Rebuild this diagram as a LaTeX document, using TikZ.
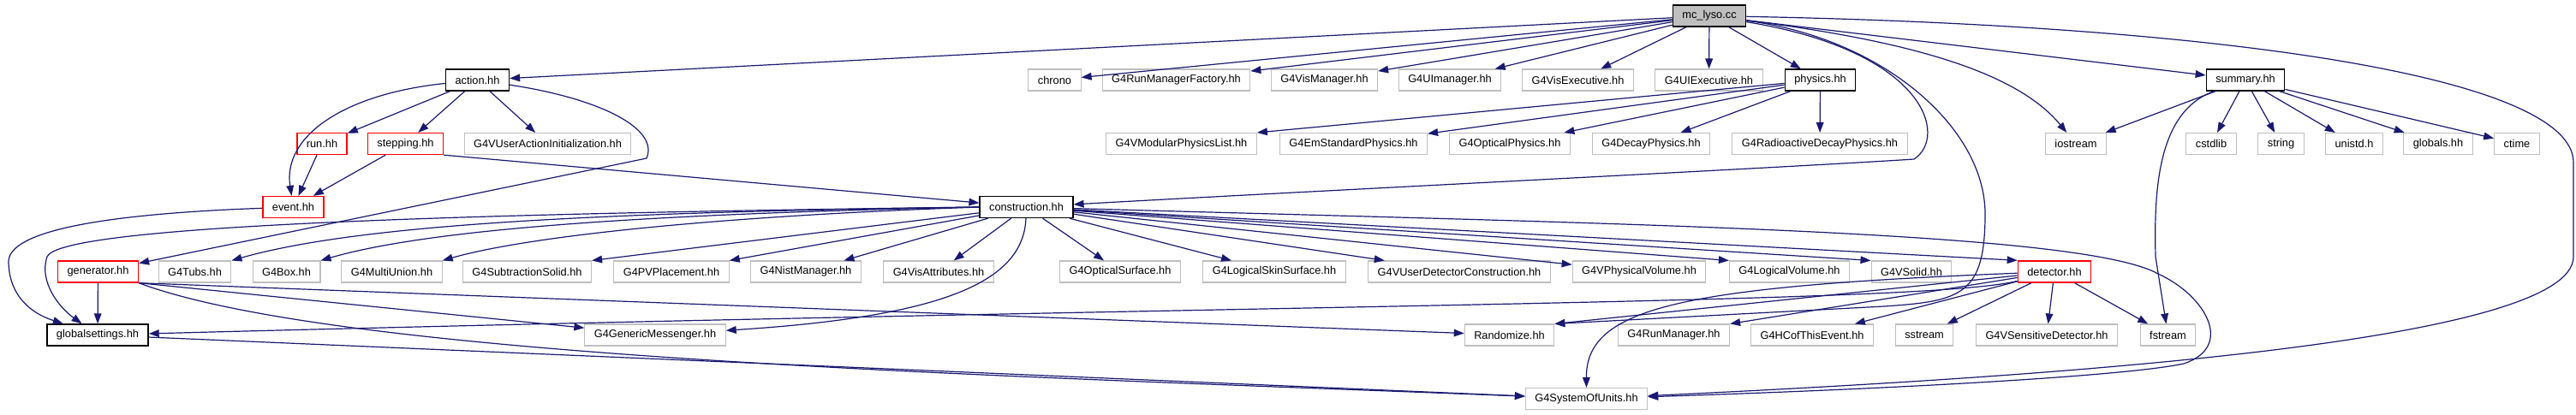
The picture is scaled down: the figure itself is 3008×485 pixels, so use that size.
\documentclass[tikz,border=0pt]{standalone}
\usepackage{fontspec}
\setmainfont{Liberation Sans}
\usetikzlibrary{arrows.meta}
\definecolor{Navy}{HTML}{191970}
\definecolor{Silver}{HTML}{BFBFBF}
\definecolor{Scarlet}{HTML}{FF0000}
\definecolor{Shade}{HTML}{BFBFBF}
\begin{document}
\begin{tikzpicture}[x=0.75pt,y=-0.75pt,
  box/.style={draw=black,line width=1pt,fill=white,minimum height=18.75pt,inner xsep=8.25pt,inner ysep=0pt,font=\fontsize{9.6}{11}\selectfont},
  box2/.style={box,draw=Silver,line width=0.8pt},
  box3/.style={box,draw=Scarlet},
  root/.style={box,fill=Shade},
  arrow/.style={-{Triangle[length=9pt,width=6.5pt]},line width=0.9pt,draw=Navy}
]
\useasboundingbox (0,0) rectangle (3008,485);
\node[root] (mc) at (1996,18.5) {mc\_lyso.cc};
\node[box] (action) at (557.5,93.5) {action.hh};
\node[box2] (chrono) at (1231.5,93.5) {chrono};
\node[box2] (runfact) at (1373.5,93.5) {G4RunManagerFactory.hh};
\node[box2] (vismgr) at (1546.5,93.5) {G4VisManager.hh};
\node[box2] (uimgr) at (1693,93.5) {G4UImanager.hh};
\node[box2] (visexec) at (1842.5,93.5) {G4VisExecutive.hh};
\node[box2] (uiexec) at (1995.5,93.5) {G4UIExecutive.hh};
\node[box] (physics) at (2125.5,93.5) {physics.hh};
\node[box] (summary) at (2622,93.5) {summary.hh};
\node[box3] (run) at (376,168) {run.hh};
\node[box3] (stepping) at (473.5,168) {stepping.hh};
\node[box2] (actinit) at (639.5,168) {G4VUserActionInitialization.hh};
\node[box2] (modlist) at (1379.5,168) {G4VModularPhysicsList.hh};
\node[box2] (emstd) at (1580.5,168) {G4EmStandardPhysics.hh};
\node[box2] (optphys) at (1763,168) {G4OpticalPhysics.hh};
\node[box2] (decay) at (1928,168) {G4DecayPhysics.hh};
\node[box2] (raddecay) at (2125,168) {G4RadioactiveDecayPhysics.hh};
\node[box2] (iostream) at (2424,168) {iostream};
\node[box2] (cstdlib) at (2582,168) {cstdlib};
\node[box2] (string) at (2663.5,168) {string};
\node[box2] (unistd) at (2749,168) {unistd.h};
\node[box2] (globals) at (2847,168) {globals.hh};
\node[box2] (ctime) at (2939,168) {ctime};
\node[box3] (event) at (342.5,242) {event.hh};
\node[box] (construction) at (1198.5,242) {construction.hh};
\node[box3] (generator) at (114.5,317.5) {generator.hh};
\node[box2] (tubs) at (227.5,317.5) {G4Tubs.hh};
\node[box2] (g4box) at (334.5,317.5) {G4Box.hh};
\node[box2] (multiunion) at (457.5,317.5) {G4MultiUnion.hh};
\node[box2] (subtraction) at (615.5,317.5) {G4SubtractionSolid.hh};
\node[box2] (pvplace) at (784,317.5) {G4PVPlacement.hh};
\node[box2] (nist) at (941,317.5) {G4NistManager.hh};
\node[box2] (visattr) at (1096,317.5) {G4VisAttributes.hh};
\node[box2] (optsurf) at (1308,317.5) {G4OpticalSurface.hh};
\node[box2] (skinsurf) at (1488,317.5) {G4LogicalSkinSurface.hh};
\node[box2] (userdet) at (1704,317.5) {G4VUserDetectorConstruction.hh};
\node[box2] (physvol) at (1914,317.5) {G4VPhysicalVolume.hh};
\node[box2] (logvol) at (2089.5,317.5) {G4LogicalVolume.hh};
\node[box2] (vsolid) at (2232,317.5) {G4VSolid.hh};
\node[box3] (detector) at (2399,317.5) {detector.hh};
\node[box] (gsettings) at (114,391.5) {globalsettings.hh};
\node[box2] (messenger) at (765,391.5) {G4GenericMessenger.hh};
\node[box2] (random) at (1762.5,391.5) {Randomize.hh};
\node[box2] (runmgr) at (1954.5,391.5) {G4RunManager.hh};
\node[box2] (hcof) at (2116,391.5) {G4HCofThisEvent.hh};
\node[box2] (sstream) at (2247,391.5) {sstream};
\node[box2] (sensdet) at (2390,391.5) {G4VSensitiveDetector.hh};
\node[box2] (fstream) at (2531.5,391.5) {fstream};
\node[box2] (units) at (1852.5,466) {G4SystemOfUnits.hh};
\draw[arrow] (mc) -- (action);
\draw[arrow] (mc) -- (chrono);
\draw[arrow] (mc) -- (runfact);
\draw[arrow] (mc) -- (vismgr);
\draw[arrow] (mc) -- (uimgr);
\draw[arrow] (mc) -- (visexec);
\draw[arrow] (mc) -- (uiexec);
\draw[arrow] (mc) -- (physics);
\draw[arrow] (mc) -- (summary);
\draw[arrow] (mc) .. controls (2250,60) and (2275,160) .. (2235,186) .. controls (2100,195) and (1500,225) .. (construction);
\draw[arrow] (mc) .. controls (2250,50) and (2360,90) .. (iostream);
\draw[arrow] (mc) .. controls (2200,45) and (2318,150) .. (2318,250) .. controls (2318,345) and (2290,352) .. (2200,358) -- (random.north east);
\draw[arrow] (mc) .. controls (2600,30) and (3005,90) .. (3005,190) -- (3005,300) .. controls (3005,400) and (2400,440) .. (units);
\draw[arrow] (action) -- (run);
\draw[arrow] (action) -- (stepping);
\draw[arrow] (action) -- (actinit);
\draw[arrow] (action) .. controls (400,110) and (330,160) .. (event);
\draw[arrow] (action) .. controls (700,115) and (770,150) .. (755,185) -- (generator);
\draw[arrow] (run) -- (event);
\draw[arrow] (stepping) -- (event);
\draw[arrow] (stepping.south east) -- (construction);
\draw[arrow] (event) .. controls (120,250) and (12,270) .. (10,305) .. controls (10,340) and (30,364) .. (gsettings);
\draw[arrow] (physics) -- (modlist.north east);
\draw[arrow] (physics) -- (emstd);
\draw[arrow] (physics) -- (optphys);
\draw[arrow] (physics) -- (decay);
\draw[arrow] (physics) -- (raddecay);
\draw[arrow] (summary) -- (iostream);
\draw[arrow] (summary) -- (cstdlib);
\draw[arrow] (summary) -- (string);
\draw[arrow] (summary) -- (unistd);
\draw[arrow] (summary) -- (globals);
\draw[arrow] (summary) -- (ctime);
\draw[arrow] (summary) .. controls (2520,130) and (2515,220) .. (2517,300) -- (fstream);
\draw[arrow] (construction.west) .. controls (500,250) and (70,265) .. (55,300) .. controls (45,330) and (70,360) .. (gsettings);
\draw[arrow] (construction.west) .. controls (700,248) and (420,262) .. (tubs.north east);
\draw[arrow] (construction.west) .. controls (750,250) and (500,268) .. (g4box.north east);
\draw[arrow] (construction.west) .. controls (850,252) and (620,275) .. (multiunion.north east);
\draw[arrow] (construction) -- (subtraction.north east);
\draw[arrow] (construction) -- (pvplace.north east);
\draw[arrow] (construction) -- (nist);
\draw[arrow] (construction) -- (visattr);
\draw[arrow] (construction) -- (optsurf);
\draw[arrow] (construction) -- (skinsurf);
\draw[arrow] (construction) -- (userdet);
\draw[arrow] (construction) -- (physvol);
\draw[arrow] (construction) -- (logvol.north west);
\draw[arrow] (construction) -- (vsolid.north west);
\draw[arrow] (construction) -- (detector.north west);
\draw[arrow] (construction) .. controls (1195,330) and (1100,370) .. (messenger);
\draw[arrow] (construction) .. controls (1900,262) and (2430,270) .. (2520,320) .. controls (2575,345) and (2610,405) .. (2550,425) .. controls (2480,440) and (2200,455) .. (units);
\draw[arrow] (generator) -- (gsettings);
\draw[arrow] (generator.south east) -- (messenger);
\draw[arrow] (generator.south east) -- (random);
\draw[arrow] (generator.south east) .. controls (400,420) and (1200,440) .. (units);
\draw[arrow] (gsettings) -- (units);
\draw[arrow] (detector) .. controls (2250,355) and (1500,355) .. (gsettings);
\draw[arrow] (detector) .. controls (1960,335) and (1852,360) .. (units);
\draw[arrow] (detector) -- (random.north east);
\draw[arrow] (detector) -- (runmgr.north east);
\draw[arrow] (detector) -- (hcof);
\draw[arrow] (detector) -- (sstream);
\draw[arrow] (detector) -- (sensdet);
\draw[arrow] (detector) -- (fstream);
\end{tikzpicture}
\end{document}
